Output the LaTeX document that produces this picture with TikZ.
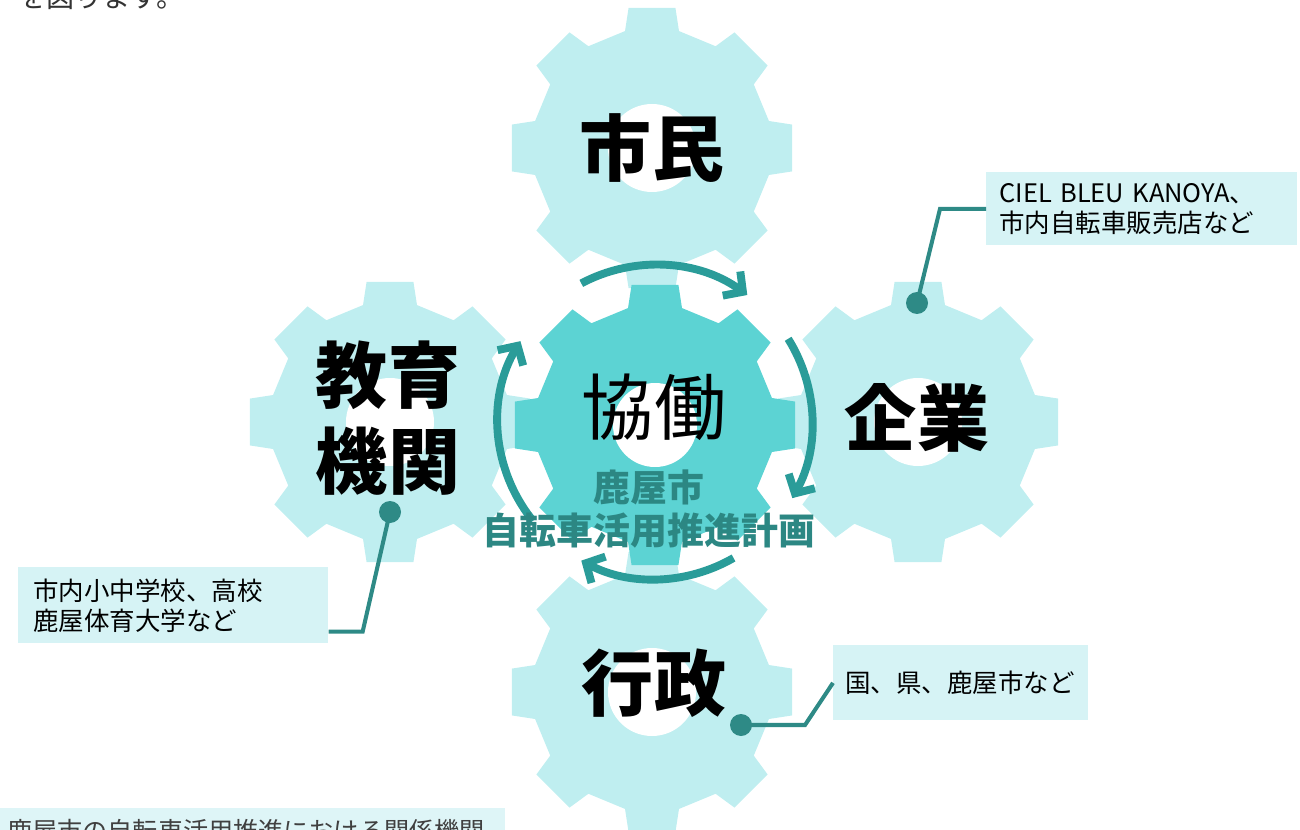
\documentclass[tikz,border=0pt]{standalone}
\usepackage{fontspec}
\setmainfont{Noto Sans CJK JP}
\usetikzlibrary{arrows.meta}
\usetikzlibrary{positioning}

\definecolor{gearlight}{HTML}{BFEEF0}
\definecolor{gearmid}{HTML}{5CD3D3}
\definecolor{arrowteal}{HTML}{2A9C99}
\definecolor{linkteal}{HTML}{2E8A86}
\definecolor{notefill}{HTML}{D6F3F5}
\definecolor{plantext}{HTML}{2C8783}

\begin{document}
\begin{tikzpicture}[x=0.02cm,y=0.02cm,
    gearlabel/.style={font=\fontsize{41pt}{49pt}\selectfont\bfseries, align=center, inner sep=0},
    cyclearrow/.style={draw=arrowteal, line width=4.5pt, -{Straight Barb[length=8pt,width=17pt]}},
    note/.style={fill=notefill, align=left, anchor=north west, font=\fontsize{14.5pt}{17pt}\selectfont},
    link/.style={draw=linkteal, line width=2.3pt},
    linkdot/.style={circle, fill=linkteal, inner sep=0, minimum size=0.44cm}]
    \useasboundingbox (0,0) rectangle (1300,829);

    % cut-off lines of the page around the figure
    \node [anchor=west, inner sep=0, text=black!80, font=\fontsize{16pt}{19pt}\selectfont] (pagetop) at (18,832) {を図ります。};
    \fill [notefill!80] (-10,-10) rectangle (505,21);
    \node [anchor=west, inner sep=0, text=black!75, font=\fontsize{14.3pt}{17pt}\selectfont] (caption) at (7,-2) {鹿屋市の自転車活用推進における関係機関};

    % outer gears
    \foreach \cx/\cy in {652/681, 390/407, 918/407, 652/137}
    {
      \begin{scope}[shift={(\cx,\cy)}]
        \fill [gearlight] (-13:120) \foreach \a in {0,45,...,315} { -- (\a-13:120) -- (\a-9.5:142) -- (\a+9.5:142) -- (\a+13:120) } -- cycle;
        \fill [white] (0,0) circle [radius=44];
      \end{scope}
    }

    % middle gear
    \begin{scope}[shift={(655,404)}]
      \fill [gearmid] (-13:120) \foreach \a in {0,45,...,315} { -- (\a-13:120) -- (\a-9.5:142) -- (\a+9.5:142) -- (\a+13:120) } -- cycle;
      \fill [white] (0,0) circle [radius=42];
    \end{scope}

    % arrows round the middle gear
    \draw [cyclearrow] (655,407) ++(118:157) arc [start angle=118, end angle=54, radius=157];
    \draw [cyclearrow] (655,407) ++(32:157) arc [start angle=32, end angle=-29, radius=157];
    \draw [cyclearrow] (655,407) ++(-60:157) arc [start angle=-60, end angle=-118, radius=157];
    \draw [cyclearrow] (655,407) ++(219:157) arc [start angle=219, end angle=149, radius=157];

    \node [gearlabel] (citizen) at (652,681) {市民};
    \node [gearlabel] (school) at (388,411) {教育\\機関};
    \node [gearlabel] (company) at (917,411) {企業};
    \node [gearlabel] (government) at (654,146) {行政};
    \node [gearlabel, font=\fontsize{41pt}{49pt}\selectfont] (cowork) at (654,422) {協働};
    \node [align=center, inner sep=0, text=plantext, font=\fontsize{21pt}{24.4pt}\selectfont\bfseries] (plan) at (649,320) {鹿屋市\\自転車活用推進計画};

    % notes
    \node [note, minimum width=6.22cm, minimum height=1.46cm, text width=5.7cm, inner xsep=0.26cm] (noteciel) at (986,657) {CIEL BLEU KANOYA、\\市内自転車販売店など};
    \node [note, minimum width=6.2cm, minimum height=1.52cm, text width=5.6cm, inner xsep=0.3cm] (noteschool) at (18,262) {市内小中学校、高校\\鹿屋体育大学など};
    \node [note, minimum width=5.1cm, minimum height=1.5cm, text width=4.62cm, inner xsep=0.24cm] (notegov) at (833,184) {国、県、鹿屋市など};

    \node [linkdot] (dotciel) at (917,526) {};
    \node [linkdot] (dotschool) at (390,317) {};
    \node [linkdot] (dotgov) at (741,104) {};

    \draw [link] (noteciel.west) -- ++(-46,0) -- (dotciel.center);
    \draw [link] (noteschool.south east) ++(0,12) -- ++(34,0) -- (dotschool.center);
    \draw [link] (dotgov.center) -- ++(64,0) -- (notegov.west);
\end{tikzpicture}
\end{document}
